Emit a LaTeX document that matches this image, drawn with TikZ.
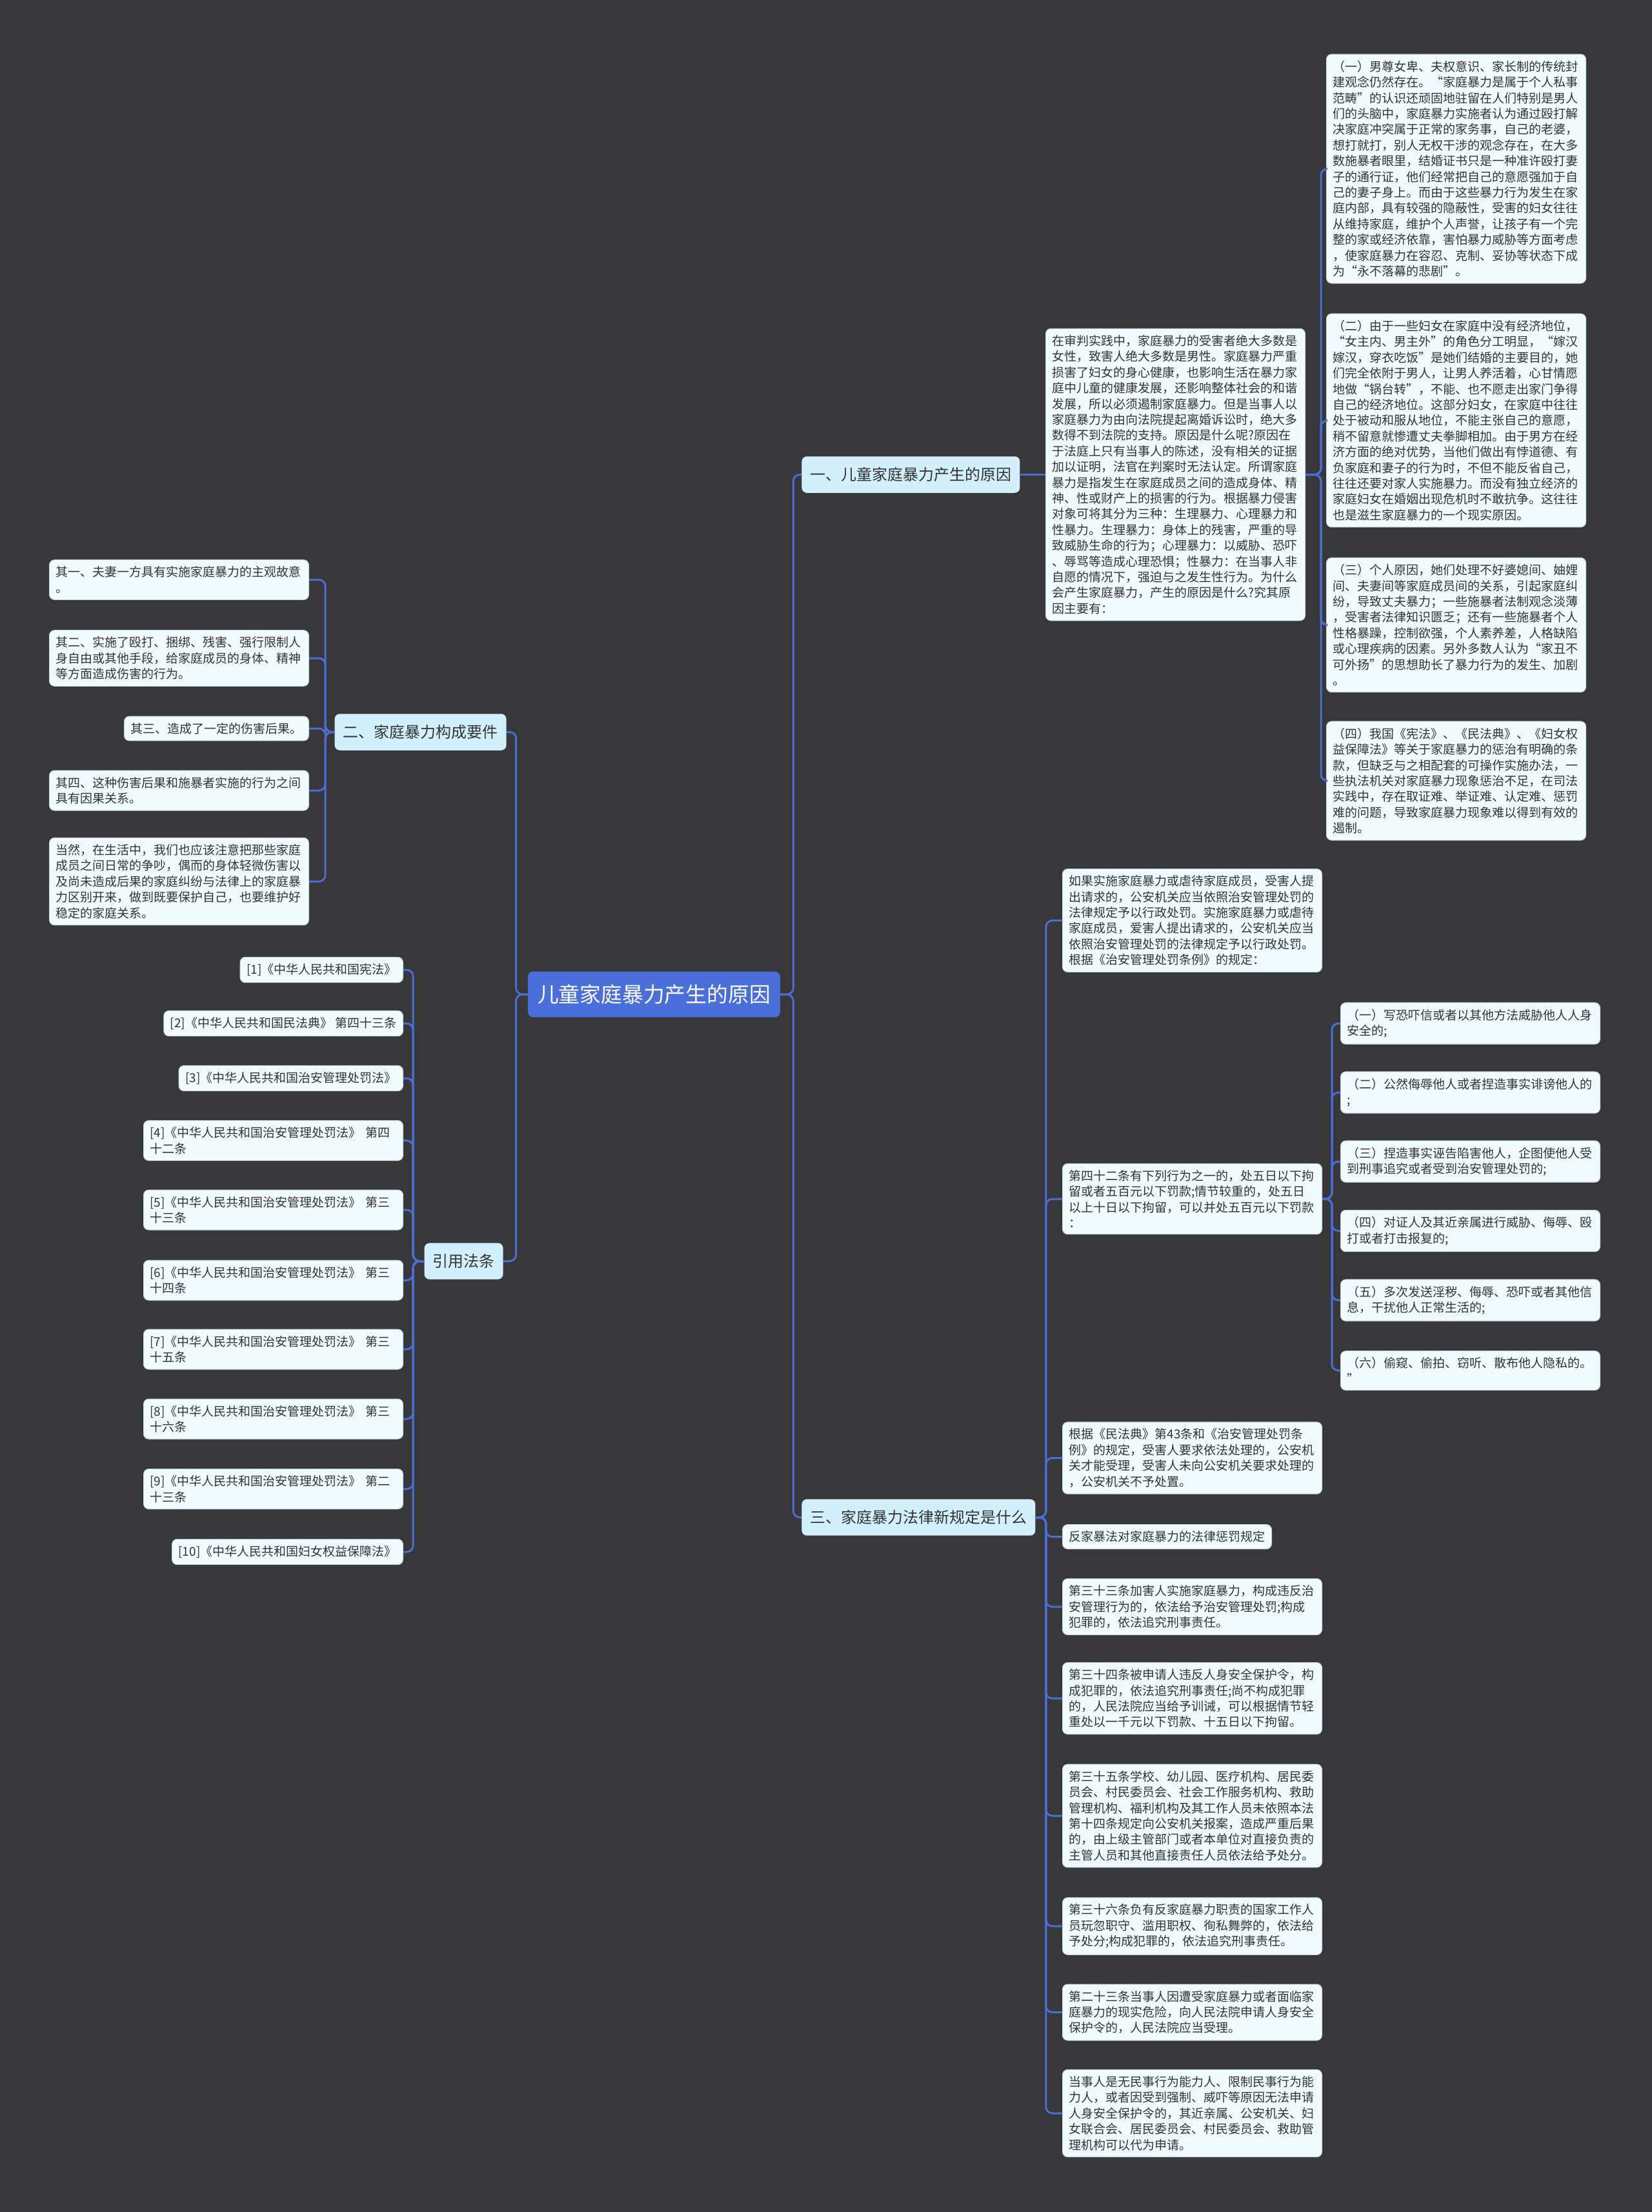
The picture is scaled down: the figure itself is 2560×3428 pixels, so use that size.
\documentclass[tikz,border=0pt]{standalone}
\usepackage{fontspec}
\setmainfont{Noto Sans CJK SC}
\usetikzlibrary{positioning}
\definecolor{canvas}{HTML}{383739}
\definecolor{rootblue}{HTML}{4A6FDC}
\definecolor{topicfill}{HTML}{D2F0FC}
\definecolor{leaffill}{HTML}{F1FAFD}
\definecolor{leafline}{HTML}{BFD6E2}
\definecolor{linkblue}{HTML}{4C6DD6}
\definecolor{inkdark}{HTML}{333333}

\tikzset{
  root/.style={fill=rootblue, text=white, font=\fontsize{16.4pt}{20pt}\selectfont,
    rounded corners=4pt, inner xsep=7.5pt, inner ysep=10pt},
  topic/.style={fill=topicfill, text=inkdark, font=\fontsize{12pt}{14pt}\selectfont,
    rounded corners=4pt, inner xsep=6.5pt, inner ysep=8.5pt},
  leaf/.style={fill=leaffill, draw=leafline, line width=0.5pt, text=inkdark,
    font=\fontsize{9.5pt}{12.2pt}\selectfont, rounded corners=4pt, align=left,
    inner xsep=5pt, inner ysep=5pt},
  leafwide/.style={leaf, text width=191pt},
  link/.style={draw=linkblue, line width=1.5pt, rounded corners=5pt},
}

\begin{document}
\begin{tikzpicture}[x=0.5pt, y=-0.5pt]
  % Hintergrund
  \fill[canvas] (0,0) rectangle (2560,3428);
  \useasboundingbox (0,0) rectangle (2560,3428);

  % Zentrum
  \node[root] (root) at (1013.5,1541) {儿童家庭暴力产生的原因};

  % Hauptaeste
  \node[topic, anchor=west] (b1) at (1242,735.5) {一、儿童家庭暴力产生的原因};
  \node[topic, anchor=east] (b2) at (785,1134.5) {二、家庭暴力构成要件};
  \node[topic, anchor=east] (b3) at (780,1954.5) {引用法条};
  \node[topic, anchor=west] (b4) at (1242,2351.5) {三、家庭暴力法律新规定是什么};

  % Ast eins
  \node[leafwide, anchor=west] (t1) at (1620,735.5) {在审判实践中，家庭暴力的受害者绝大多数是\\女性，致害人绝大多数是男性。家庭暴力严重\\损害了妇女的身心健康，也影响生活在暴力家\\庭中儿童的健康发展，还影响整体社会的和谐\\发展，所以必须遏制家庭暴力。但是当事人以\\家庭暴力为由向法院提起离婚诉讼时，绝大多\\数得不到法院的支持。原因是什么呢?原因在\\于法庭上只有当事人的陈述，没有相关的证据\\加以证明，法官在判案时无法认定。所谓家庭\\暴力是指发生在家庭成员之间的造成身体、精\\神、性或财产上的损害的行为。根据暴力侵害\\对象可将其分为三种：生理暴力、心理暴力和\\性暴力。生理暴力：身体上的残害，严重的导\\致威胁生命的行为；心理暴力：以威胁、恐吓\\、辱骂等造成心理恐惧；性暴力：在当事人非\\自愿的情况下，强迫与之发生性行为。为什么\\会产生家庭暴力，产生的原因是什么?究其原\\因主要有：};
  \node[leafwide, anchor=west] (r1) at (2055,261.5) {（一）男尊女卑、夫权意识、家长制的传统封\\建观念仍然存在。“家庭暴力是属于个人私事\\范畴”的认识还顽固地驻留在人们特别是男人\\们的头脑中，家庭暴力实施者认为通过殴打解\\决家庭冲突属于正常的家务事，自己的老婆，\\想打就打，别人无权干涉的观念存在，在大多\\数施暴者眼里，结婚证书只是一种准许殴打妻\\子的通行证，他们经常把自己的意愿强加于自\\己的妻子身上。而由于这些暴力行为发生在家\\庭内部，具有较强的隐蔽性，受害的妇女往往\\从维持家庭，维护个人声誉，让孩子有一个完\\整的家或经济依靠，害怕暴力威胁等方面考虑\\，使家庭暴力在容忍、克制、妥协等状态下成\\为“永不落幕的悲剧”。};
  \node[leafwide, anchor=west] (r2) at (2055,651.5) {（二）由于一些妇女在家庭中没有经济地位，\\“女主内、男主外”的角色分工明显，“嫁汉\\嫁汉，穿衣吃饭”是她们结婚的主要目的，她\\们完全依附于男人，让男人养活着，心甘情愿\\地做“锅台转”，不能、也不愿走出家门争得\\自己的经济地位。这部分妇女，在家庭中往往\\处于被动和服从地位，不能主张自己的意愿，\\稍不留意就惨遭丈夫拳脚相加。由于男方在经\\济方面的绝对优势，当他们做出有悖道德、有\\负家庭和妻子的行为时，不但不能反省自己，\\往往还要对家人实施暴力。而没有独立经济的\\家庭妇女在婚姻出现危机时不敢抗争。这往往\\也是滋生家庭暴力的一个现实原因。};
  \node[leafwide, anchor=west] (r3) at (2055,968.5) {（三）个人原因，她们处理不好婆媳间、妯娌\\间、夫妻间等家庭成员间的关系，引起家庭纠\\纷，导致丈夫暴力；一些施暴者法制观念淡薄\\，受害者法律知识匮乏；还有一些施暴者个人\\性格暴躁，控制欲强，个人素养差，人格缺陷\\或心理疾病的因素。另外多数人认为“家丑不\\可外扬”的思想助长了暴力行为的发生、加剧\\。};
  \node[leafwide, anchor=west] (r4) at (2055,1210) {（四）我国《宪法》、《民法典》、《妇女权\\益保障法》等关于家庭暴力的惩治有明确的条\\款，但缺乏与之相配套的可操作实施办法，一\\些执法机关对家庭暴力现象惩治不足，在司法\\实践中，存在取证难、举证难、认定难、惩罚\\难的问题，导致家庭暴力现象难以得到有效的\\遏制。};

  % Ast zwei
  \node[leafwide, anchor=east] (e1) at (479,898.5) {其一、夫妻一方具有实施家庭暴力的主观故意\\。};
  \node[leafwide, anchor=east] (e2) at (479,1020) {其二、实施了殴打、捆绑、残害、强行限制人\\身自由或其他手段，给家庭成员的身体、精神\\等方面造成伤害的行为。};
  \node[leaf, anchor=east] (e3) at (479,1129) {其三、造成了一定的伤害后果。};
  \node[leafwide, anchor=east] (e4) at (479,1225) {其四、这种伤害后果和施暴者实施的行为之间\\具有因果关系。};
  \node[leafwide, anchor=east] (e5) at (479,1366) {当然，在生活中，我们也应该注意把那些家庭\\成员之间日常的争吵，偶而的身体轻微伤害以\\及尚未造成后果的家庭纠纷与法律上的家庭暴\\力区别开来，做到既要保护自己，也要维护好\\稳定的家庭关系。};

  % Quellen
  \node[leaf, anchor=east] (f1) at (625,1503) {[1]《中华人民共和国宪法》};
  \node[leaf, anchor=east] (f2) at (625,1586) {[2]《中华人民共和国民法典》 第四十三条};
  \node[leaf, anchor=east] (f3) at (625,1671) {[3]《中华人民共和国治安管理处罚法》};
  \node[leafwide, anchor=east] (f4) at (625,1767.5) {[4]《中华人民共和国治安管理处罚法》 第四\\十二条};
  \node[leafwide, anchor=east] (f5) at (625,1875) {[5]《中华人民共和国治安管理处罚法》 第三\\十三条};
  \node[leafwide, anchor=east] (f6) at (625,1984) {[6]《中华人民共和国治安管理处罚法》 第三\\十四条};
  \node[leafwide, anchor=east] (f7) at (625,2091) {[7]《中华人民共和国治安管理处罚法》 第三\\十五条};
  \node[leafwide, anchor=east] (f8) at (625,2199) {[8]《中华人民共和国治安管理处罚法》 第三\\十六条};
  \node[leafwide, anchor=east] (f9) at (625,2307.5) {[9]《中华人民共和国治安管理处罚法》 第二\\十三条};
  \node[leaf, anchor=east] (f10) at (625,2405) {[10]《中华人民共和国妇女权益保障法》};

  % Ast drei
  \node[leafwide, anchor=west] (g1) at (1646,1426.5) {如果实施家庭暴力或虐待家庭成员，受害人提\\出请求的，公安机关应当依照治安管理处罚的\\法律规定予以行政处罚。实施家庭暴力或虐待\\家庭成员，爱害人提出请求的，公安机关应当\\依照治安管理处罚的法律规定予以行政处罚。\\根据《治安管理处罚条例》的规定：};
  \node[leafwide, anchor=west] (g2) at (1646,1858) {第四十二条有下列行为之一的，处五日以下拘\\留或者五百元以下罚款;情节较重的，处五日\\以上十日以下拘留，可以并处五百元以下罚款\\：};
  \node[leafwide, anchor=west] (h1) at (2077,1586) {（一）写恐吓信或者以其他方法威胁他人人身\\安全的;};
  \node[leafwide, anchor=west] (h2) at (2077,1693) {（二）公然侮辱他人或者捏造事实诽谤他人的\\;};
  \node[leafwide, anchor=west] (h3) at (2077,1800) {（三）捏造事实诬告陷害他人，企图使他人受\\到刑事追究或者受到治安管理处罚的;};
  \node[leafwide, anchor=west] (h4) at (2077,1907.5) {（四）对证人及其近亲属进行威胁、侮辱、殴\\打或者打击报复的;};
  \node[leafwide, anchor=west] (h5) at (2077,2015) {（五）多次发送淫秽、侮辱、恐吓或者其他信\\息，干扰他人正常生活的;};
  \node[leafwide, anchor=west] (h6) at (2077,2124) {（六）偷窥、偷拍、窃听、散布他人隐私的。\\”};
  \node[leafwide, anchor=west] (g3) at (1646,2259.5) {根据《民法典》第43条和《治安管理处罚条\\例》的规定，受害人要求依法处理的，公安机\\关才能受理，受害人未向公安机关要求处理的\\，公安机关不予处置。};
  \node[leaf, anchor=west] (g4) at (1646,2381.5) {反家暴法对家庭暴力的法律惩罚规定};
  \node[leafwide, anchor=west] (g5) at (1646,2490) {第三十三条加害人实施家庭暴力，构成违反治\\安管理行为的，依法给予治安管理处罚;构成\\犯罪的，依法追究刑事责任。};
  \node[leafwide, anchor=west] (g6) at (1646,2632) {第三十四条被申请人违反人身安全保护令，构\\成犯罪的，依法追究刑事责任;尚不构成犯罪\\的，人民法院应当给予训诫，可以根据情节轻\\重处以一千元以下罚款、十五日以下拘留。};
  \node[leafwide, anchor=west] (g7) at (1646,2814) {第三十五条学校、幼儿园、医疗机构、居民委\\员会、村民委员会、社会工作服务机构、救助\\管理机构、福利机构及其工作人员未依照本法\\第十四条规定向公安机关报案，造成严重后果\\的，由上级主管部门或者本单位对直接负责的\\主管人员和其他直接责任人员依法给予处分。};
  \node[leafwide, anchor=west] (g8) at (1646,2985) {第三十六条负有反家庭暴力职责的国家工作人\\员玩忽职守、滥用职权、徇私舞弊的，依法给\\予处分;构成犯罪的，依法追究刑事责任。};
  \node[leafwide, anchor=west] (g9) at (1646,3118.5) {第二十三条当事人因遭受家庭暴力或者面临家\\庭暴力的现实危险，向人民法院申请人身安全\\保护令的，人民法院应当受理。};
  \node[leafwide, anchor=west] (g10) at (1646,3275) {当事人是无民事行为能力人、限制民事行为能\\力人，或者因受到强制、威吓等原因无法申请\\人身安全保护令的，其近亲属、公安机关、妇\\女联合会、居民委员会、村民委员会、救助管\\理机构可以代为申请。};

  % Verbindungen
  \foreach \c in {b1,b4} \draw[link] (root.east) -- ++(20,0) |- (\c.west);
  \foreach \c in {b2,b3} \draw[link] (root.west) -- ++(-18,0) |- (\c.east);
  \draw[link] (b1.east) -- (t1.west);
  \foreach \c in {r1,r2,r3,r4} \draw[link] (t1.east) -- ++(24,0) |- (\c.west);
  \foreach \c in {e1,e2,e3,e4,e5} \draw[link] (b2.west) -- ++(-14,0) |- (\c.east);
  \foreach \c in {f1,f2,f3,f4,f5,f6,f7,f8,f9,f10} \draw[link] (b3.west) -- ++(-17,0) |- (\c.east);
  \foreach \c in {g1,g2,g3,g4,g5,g6,g7,g8,g9,g10} \draw[link] (b4.east) -- ++(16,0) |- (\c.west);
  \foreach \c in {h1,h2,h3,h4,h5,h6} \draw[link] (g2.east) -- ++(15,0) |- (\c.west);
\end{tikzpicture}
\end{document}
